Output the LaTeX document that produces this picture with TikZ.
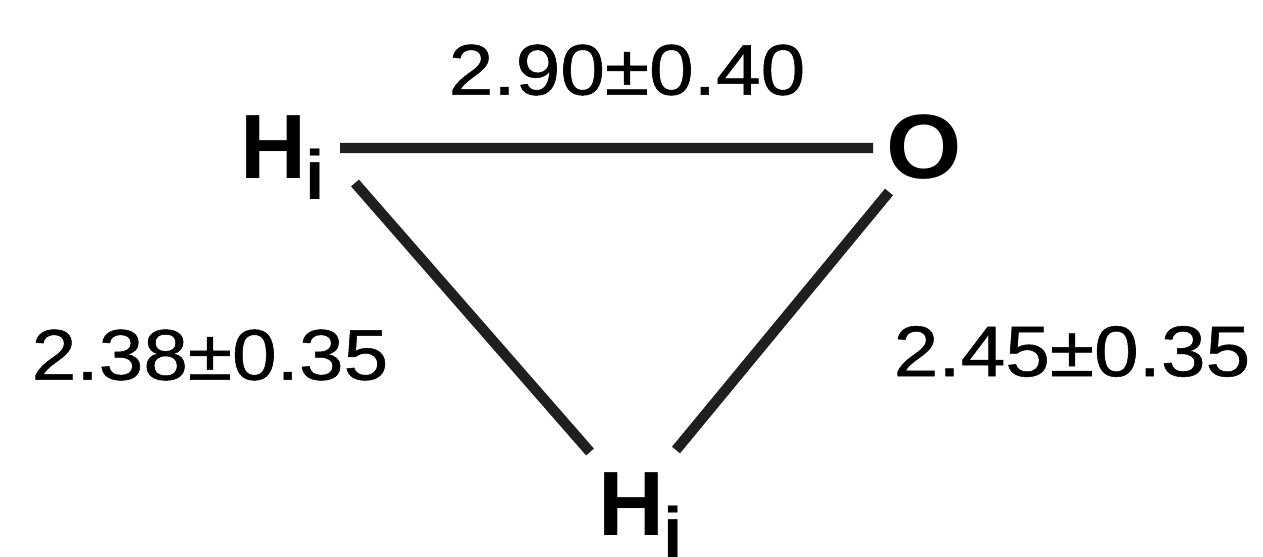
\documentclass[tikz,border=0pt]{standalone}
\usepackage{fontspec}
\setmainfont{Liberation Sans}
\newfontfamily\labfont[FakeBold=0.7]{Liberation Sans}
\usetikzlibrary{calc}
\newcommand{\atomH}[1]{{\fontsize{52pt}{52pt}\selectfont\bfseries H}\raisebox{-12.5pt}{\fontsize{39.7pt}{40pt}\selectfont\bfseries #1}}
\newcommand{\distlab}[1]{\scalebox{1.12}[1]{\labfont\fontsize{40.8pt}{41pt}\selectfont #1}}
\begin{document}
\begin{tikzpicture}[x=0.02cm,y=-0.02cm,
  atom/.style={inner sep=0pt,outer sep=0pt},
  dlab/.style={inner sep=0pt,outer sep=0pt},
  bond/.style={line width=5.9pt,line cap=butt,black!88}]
\useasboundingbox (0,0) rectangle (1263,557);
\node[atom,anchor=base west] (Hi) at (240,178) {\atomH{i}};
\node[atom] (O) at (924,147.5) {\scalebox{1.06}[1]{\fontsize{52pt}{52pt}\selectfont\bfseries O}};
\node[atom,anchor=base west] (Hj) at (598,535) {\atomH{j}};
\node[dlab] (top) at (627,70) {\distlab{2.90±0.40}};
\node[dlab] (left) at (210,355) {\distlab{2.38±0.35}};
\node[dlab] (right) at (1072,351.5) {\distlab{2.45±0.35}};
\draw[bond] ($(Hi.base west)+(100,-30)$) -- ($(O.center)+(-51,0.5)$);
\draw[bond] ($(Hi.base west)+(115,5)$) -- ($(Hj.base west)+(-8,-83)$);
\draw[bond] ($(O.center)+(-35,44.5)$) -- ($(Hj.base west)+(78,-85)$);
\end{tikzpicture}
\end{document}
